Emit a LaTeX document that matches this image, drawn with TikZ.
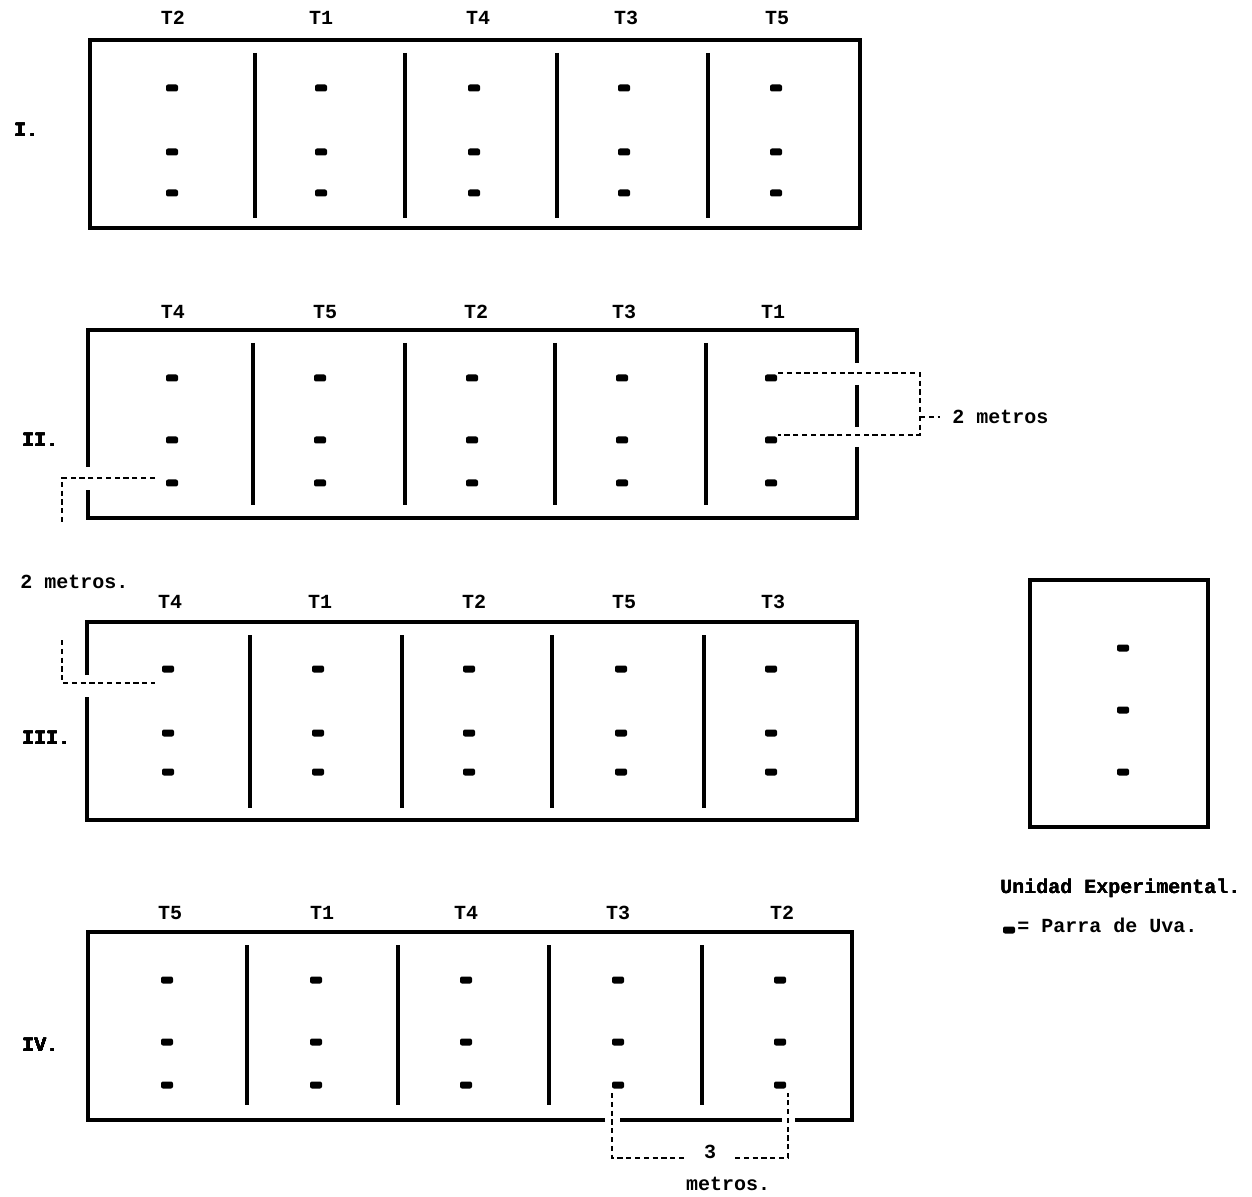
\documentclass[tikz,border=0pt]{standalone}
\usepackage{fontspec}
\setmainfont{Liberation Mono}
\begin{document}
\begin{tikzpicture}[x=0.5pt,y=-0.5pt,
  frame/.style={line width=1.6pt},
  divider/.style={line width=1.6pt},
  dsh/.style={line width=1.1pt, dash pattern=on 2.6pt off 1.8pt},
  vine/.style={fill=black, rounded corners=1pt},
  lab/.style={font=\bfseries\fontsize{10}{12}\selectfont, inner sep=0pt},
  rowlab/.style={font=\bfseries\fontsize{10}{12}\selectfont, inner sep=0pt, anchor=west}]
\useasboundingbox (0,0) rectangle (1252,1197);
\newcommand\vinedot[2]{\fill[vine] ({#1-6},{#2-3.5}) rectangle ({#1+6},{#2+3.5});}

% ---------- Block I ----------
\draw[frame] (90,40) rectangle (860,228);
\foreach \x in {255,405,557,708} \draw[divider] (\x,53) -- (\x,218);
\foreach \x/\t [count=\i] in {173/T2,321/T1,478/T4,626/T3,777/T5}
  \node[lab] (a\i) at (\x,18) {\t};
\foreach \x in {172,321,474,624,776}
  \foreach \y in {88,152,193} \vinedot{\x}{\y}
\node[rowlab] (rI) at (14,130) {I.};

% ---------- Block II ----------
\draw[frame] (88,467) -- (88,330) -- (857,330) -- (857,363);
\draw[frame] (857,385) -- (857,427);
\draw[frame] (857,447) -- (857,518) -- (88,518) -- (88,490);
\foreach \x in {253,405,555,706} \draw[divider] (\x,343) -- (\x,505);
\foreach \x/\t [count=\i] in {173/T4,325/T5,476/T2,624/T3,773/T1}
  \node[lab] (b\i) at (\x,312) {\t};
\foreach \x in {172,320,472,622,771}
  \foreach \y in {378,440,483} \vinedot{\x}{\y}
\node[rowlab] (rII) at (22,440) {II.};

% annotation right
\coordinate (r1) at (778,373);
\coordinate (r2) at (920,373);
\coordinate (r3) at (920,435);
\coordinate (r4) at (778,435);
\draw[dsh] (r1) -- (r2) -- (r3) -- (r4);
\node[rowlab] (m1) at (952,417) {2 metros};
\coordinate (r5) at (920,417);
\coordinate (r6) at (940,417);
\draw[dsh] (r5) -- (r6);

% annotation left
\coordinate (l1) at (155,478);
\coordinate (l2) at (62,478);
\coordinate (l3) at (62,523);
\draw[dsh] (l1) -- (l2) -- (l3);
\node[rowlab] (m2) at (20,582) {2 metros.};

% ---------- Block III ----------
\draw[frame] (87,675) -- (87,622) -- (857,622) -- (857,820) -- (87,820) -- (87,697);
\foreach \x in {250,402,552,704} \draw[divider] (\x,635) -- (\x,808);
\foreach \x/\t [count=\i] in {170/T4,320/T1,474/T2,624/T5,773/T3}
  \node[lab] (c\i) at (\x,602) {\t};
\foreach \x in {168,318,469,621,771}
  \foreach \y in {669,733,772} \vinedot{\x}{\y}
\node[rowlab] (rIII) at (22,738) {III.};

\coordinate (k1) at (62,640);
\coordinate (k2) at (62,683);
\coordinate (k3) at (155,683);
\draw[dsh] (k1) -- (k2) -- (k3);

% ---------- Block IV ----------
\draw[frame] (605,1120) -- (88,1120) -- (88,932) -- (852,932) -- (852,1120) -- (795,1120);
\draw[frame] (620,1120) -- (782,1120);
\foreach \x in {247,398,549,702} \draw[divider] (\x,945) -- (\x,1105);
\foreach \x/\t [count=\i] in {170/T5,322/T1,466/T4,618/T3,782/T2}
  \node[lab] (d\i) at (\x,913) {\t};
\foreach \x in {167,316,466,618,780}
  \foreach \y in {980,1042,1085} \vinedot{\x}{\y}
\node[rowlab] (rIV) at (22,1045) {IV.};

\coordinate (q1) at (612,1093);
\coordinate (q2) at (612,1158);
\coordinate (q3) at (685,1158);
\coordinate (q4) at (735,1158);
\coordinate (q5) at (788,1158);
\coordinate (q6) at (788,1093);
\draw[dsh] (q1) -- (q2) -- (q3);
\draw[dsh] (q4) -- (q5) -- (q6);
\node[lab] (n3) at (710,1152) {3};
\node[lab] (n4) at (728,1184) {metros.};

% ---------- Legend ----------
\draw[frame] (1030,580) rectangle (1208,827);
\foreach \y in {648,710,772} \vinedot{1123}{\y}
\node[rowlab] (u1) at (1000,888) {Unidad Experimental.};
\vinedot{1009}{930}
\node[rowlab] (u2) at (1017,925) {= Parra de Uva.};
\end{tikzpicture}
\end{document}
